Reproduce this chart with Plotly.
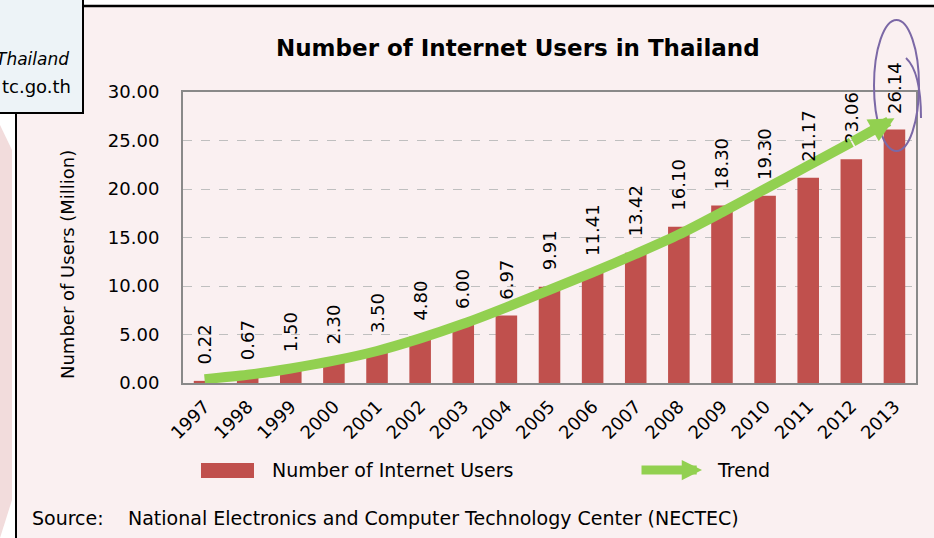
import plotly.graph_objects as go

# ---- data ----
years = ["1997", "1998", "1999", "2000", "2001", "2002", "2003", "2004", "2005",
         "2006", "2007", "2008", "2009", "2010", "2011", "2012", "2013"]
users = [0.22, 0.67, 1.50, 2.30, 3.50, 4.80, 6.00, 6.97, 9.91,
         11.41, 13.42, 16.10, 18.30, 19.30, 21.17, 23.06, 26.14]
user_labels = ["0.22", "0.67", "1.50", "2.30", "3.50", "4.80", "6.00", "6.97", "9.91",
               "11.41", "13.42", "16.10", "18.30", "19.30", "21.17", "23.06", "26.14"]
# trend arrow centre line (last point = arrow tip)
trend_vals = [0.4, 0.85, 1.5, 2.3, 3.3, 4.6, 6.1, 7.8, 9.6,
              11.4, 13.3, 15.3, 17.6, 20.0, 22.4, 24.8, 27.3]
y_ticks = [0, 5, 10, 15, 20, 25, 30]

# ---- layout helpers (pixel -> paper) ----
L, R, T, B = 183, 916, 92, 383
W, H = R - L, B - T
def px(x):
    return (x - L) / W
def py(y):
    return (B - y) / H

BG = "#FAF0F1"
RED = "#C0504D"
GREEN = "#92D050"
FONT = "DejaVu Sans"

fig = go.Figure()
fig.add_trace(go.Bar(x=years, y=users, marker=dict(color=RED, line=dict(width=0)),
                     width=0.5, hoverinfo="x+y", showlegend=False))
fig.add_trace(go.Scatter(x=years[:-1], y=trend_vals[:-1], mode="lines",
                         line=dict(color=GREEN, width=10, shape="spline", smoothing=0.8),
                         hoverinfo="skip", showlegend=False))

annotations = []
for i, (v, lab) in enumerate(zip(users, user_labels)):
    annotations.append(dict(x=i, y=v, xref="x", yref="y", text=lab, showarrow=False,
                            textangle=-90, yanchor="bottom", xanchor="center", yshift=14,
                            font=dict(family=FONT, size=18, color="black")))
# arrow head of the trend
n = len(years)
annotations.append(dict(x=n - 1, y=trend_vals[-1], xref="x", yref="y",
                        ax=n - 2, ay=trend_vals[-2], axref="x", ayref="y",
                        text="", showarrow=True, arrowhead=2, arrowsize=0.5,
                        arrowwidth=10, arrowcolor=GREEN, standoff=0))
# title
annotations.append(dict(x=px(518), y=py(48), xref="paper", yref="paper",
                        text="<b>Number of Internet Users in Thailand</b>", showarrow=False,
                        xanchor="center", yanchor="middle",
                        font=dict(family=FONT, size=23, color="black")))
# y-axis title
annotations.append(dict(x=px(67), y=py(265), xref="paper", yref="paper",
                        text="Number of Users (Million)", showarrow=False, textangle=-90,
                        xanchor="center", yanchor="middle",
                        font=dict(family=FONT, size=18, color="black")))
# legend
annotations.append(dict(x=px(270), y=py(470), xref="paper", yref="paper",
                        text="Number of Internet Users", showarrow=False,
                        xanchor="left", yanchor="middle",
                        font=dict(family=FONT, size=19, color="black")))
annotations.append(dict(x=px(702), y=py(470), xref="paper", yref="paper",
                        ax=-62, ay=0, axref="pixel", ayref="pixel",
                        text="", showarrow=True, arrowhead=2, arrowsize=0.45,
                        arrowwidth=9, arrowcolor=GREEN, standoff=0))
annotations.append(dict(x=px(715), y=py(470), xref="paper", yref="paper",
                        text="Trend", showarrow=False, xanchor="left", yanchor="middle",
                        font=dict(family=FONT, size=19, color="black")))
# source
annotations.append(dict(x=px(30), y=py(518), xref="paper", yref="paper",
                        text="Source:", showarrow=False, xanchor="left", yanchor="middle",
                        font=dict(family=FONT, size=19, color="black")))
annotations.append(dict(x=px(126), y=py(518), xref="paper", yref="paper",
                        text="National Electronics and Computer Technology Center (NECTEC)",
                        showarrow=False, xanchor="left", yanchor="middle",
                        font=dict(family=FONT, size=19, color="black")))
# top-left overlapping box text
annotations.append(dict(x=px(71), y=py(59), xref="paper", yref="paper",
                        text="<i>Thailand</i>", showarrow=False, xanchor="right", yanchor="middle",
                        font=dict(family=FONT, size=17, color="black")))
annotations.append(dict(x=px(73), y=py(86), xref="paper", yref="paper",
                        text="tc.go.th", showarrow=False, xanchor="right", yanchor="middle",
                        font=dict(family=FONT, size=18, color="black")))

shapes = [
    # white top strip + top black rule
    dict(type="rect", xref="paper", yref="paper", x0=px(0), x1=px(934), y0=py(6), y1=py(-2),
         fillcolor="white", line=dict(width=0), layer="below"),
    dict(type="line", xref="paper", yref="paper", x0=px(83), x1=px(934), y0=py(6), y1=py(6),
         line=dict(color="black", width=2.5)),
    # left strip
    dict(type="rect", xref="paper", yref="paper", x0=px(-2), x1=px(16), y0=py(540), y1=py(0),
         fillcolor="white", line=dict(width=0), layer="below"),
    dict(type="path", xref="paper", yref="paper",
         path=f"M {px(0)},{py(125)} L {px(12)},{py(150)} L {px(12)},{py(500)} L {px(0)},{py(538)} Z",
         fillcolor="#F2DCDC", line=dict(width=0), layer="below"),
    dict(type="line", xref="paper", yref="paper", x0=px(16), x1=px(16), y0=py(112), y1=py(540),
         line=dict(color="black", width=2)),
    # top-left box
    dict(type="rect", xref="paper", yref="paper", x0=px(-3), x1=px(83), y0=py(113), y1=py(-3),
         fillcolor="#EDF3F7", line=dict(color="black", width=2)),
    # legend swatch
    dict(type="rect", xref="paper", yref="paper", x0=px(201), x1=px(254), y0=py(478), y1=py(463),
         fillcolor=RED, line=dict(width=0)),
    # purple ellipse & stroke
    dict(type="circle", xref="paper", yref="paper", x0=px(874), x1=px(919), y0=py(151), y1=py(20),
         line=dict(color="#7B68A6", width=2)),
    dict(type="path", xref="paper", yref="paper",
         path=f"M {px(906)},{py(58)} Q {px(921)},{py(72)} {px(921)},{py(118)}",
         line=dict(color="#7B68A6", width=2)),
]

fig.update_layout(
    width=934, height=538,
    margin=dict(l=L, r=934 - R, t=T, b=538 - B, pad=0),
    paper_bgcolor=BG, plot_bgcolor=BG,
    font=dict(family=FONT, size=18, color="black"),
    annotations=annotations, shapes=shapes,
    showlegend=False,
)
fig.update_xaxes(type="category", range=[-0.5, n - 0.5], autorange=False,
                 tickangle=-45, showline=True, linecolor="#898989",
                 linewidth=2, mirror=True, showgrid=False, ticks="",
                 ticklabelstandoff=4, tickfont=dict(family=FONT, size=18))
fig.update_yaxes(range=[0, 30], autorange=False, tickvals=y_ticks, tickformat=".2f", showline=True,
                 linecolor="#898989", linewidth=2, mirror=True, showgrid=True,
                 gridcolor="#BFBFBF", griddash="dash", gridwidth=1, zeroline=False,
                 ticks="", ticklabelstandoff=18, tickfont=dict(family=FONT, size=18))

fig.write_html("out.html")
